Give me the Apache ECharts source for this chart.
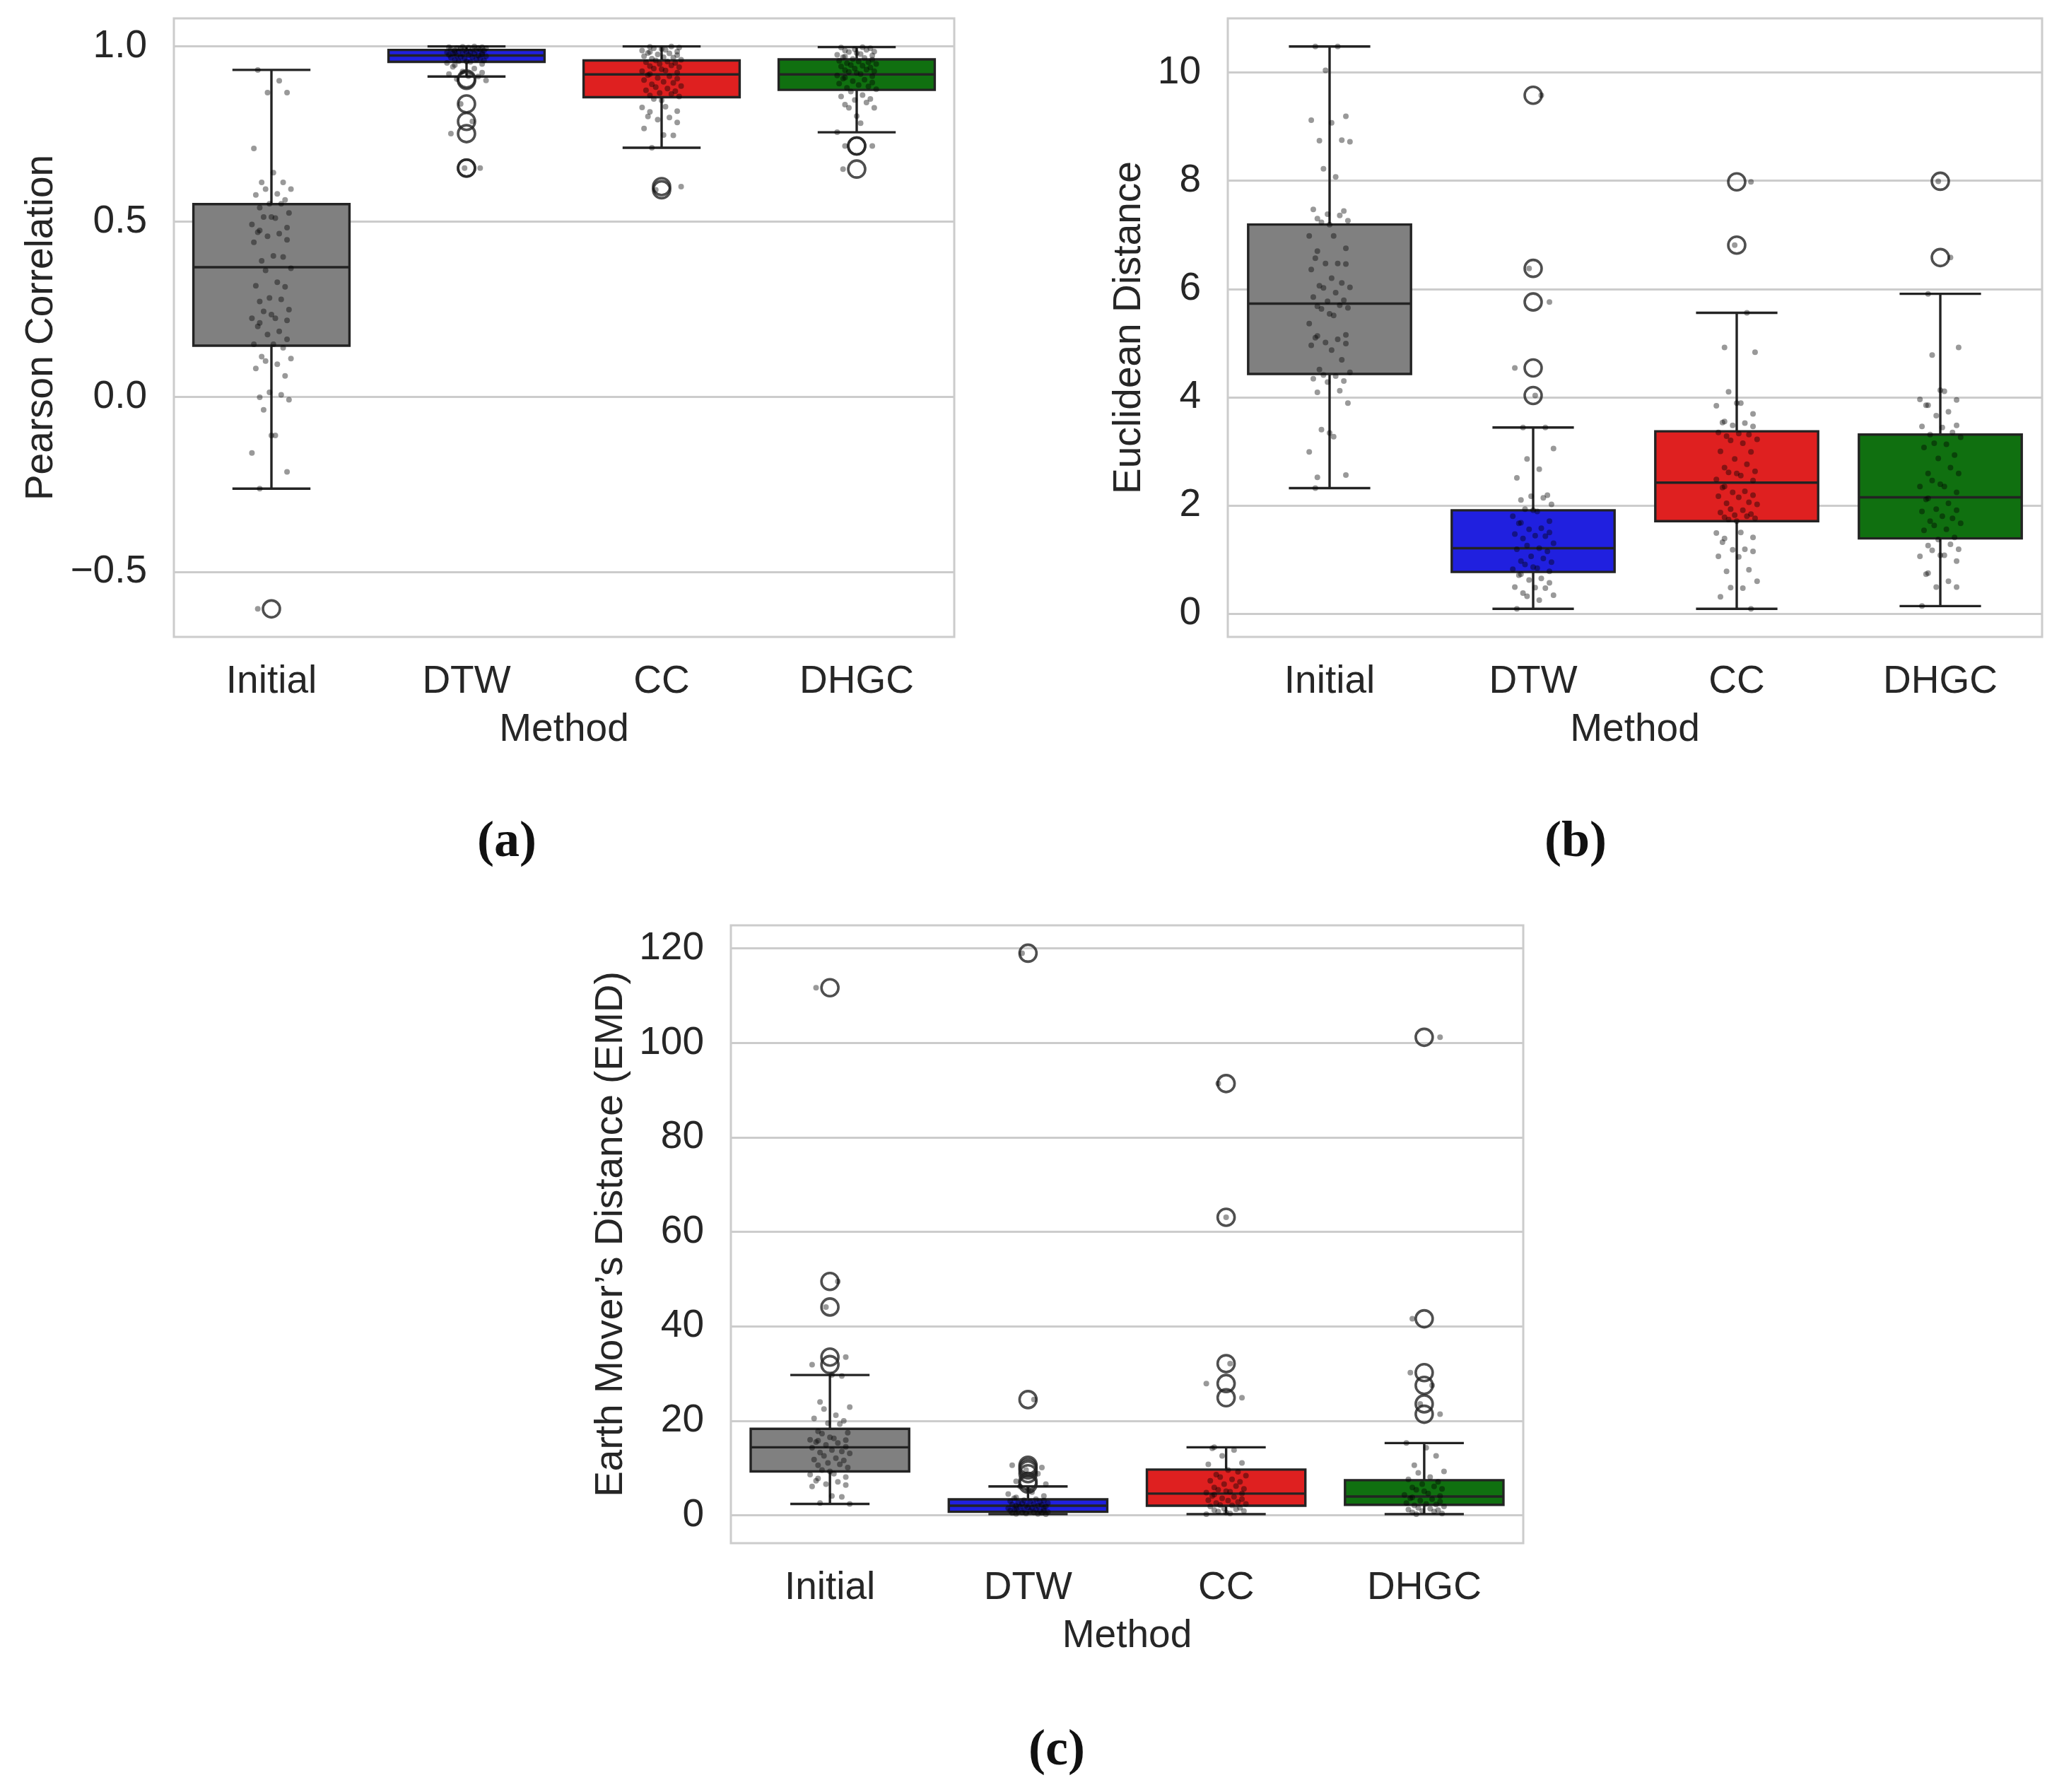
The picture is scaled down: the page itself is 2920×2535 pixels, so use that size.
<!DOCTYPE html>
<html>
<head>
<meta charset="utf-8">
<script src="https://cdn.jsdelivr.net/npm/echarts@6/dist/echarts.min.js"></script>
<style>
    html, body { margin: 0; background: #ffffff; }
    #chart { width: 2920px; height: 2535px; }
</style>
</head>
<body>
<div id="chart"></div>
<script>
const methods = ["Initial", "DTW", "CC", "DHGC"];
const boxColors = ["#808080", "#2020df", "#df2020", "#107010"];

// box stats: [lower whisker, Q1, median, Q3, upper whisker]
const pearsonBoxes = [
    [-0.262, 0.146, 0.370, 0.550, 0.933],
    [0.914, 0.956, 0.974, 0.990, 1.000],
    [0.711, 0.855, 0.920, 0.960, 1.000],
    [0.755, 0.876, 0.920, 0.963, 0.998]
];
const euclidBoxes = [
    [2.32, 4.43, 5.73, 7.19, 10.48],
    [0.09, 0.77, 1.21, 1.91, 3.44],
    [0.09, 1.71, 2.42, 3.37, 5.56],
    [0.14, 1.39, 2.15, 3.31, 5.91]
];
const emdBoxes = [
    [2.4, 9.3, 14.4, 18.3, 29.7],
    [0.25, 0.74, 2.03, 3.37, 6.1],
    [0.25, 2.03, 4.6, 9.68, 14.4],
    [0.25, 2.23, 3.97, 7.44, 15.3]
];

// per-sample values (strip points)
const pearsonInitial = [0.933, 0.902, 0.868, 0.868, 0.709, 0.640, 0.612, 0.612, 0.593, 0.593, 0.579, 0.576,
    0.562, 0.551, 0.551, 0.540, 0.525, 0.513, 0.513, 0.510, 0.492, 0.483, 0.475, 0.470, 0.466, 0.458, 0.448,
    0.441, 0.402, 0.399, 0.388, 0.367, 0.361, 0.327, 0.317, 0.314, 0.282, 0.278, 0.272, 0.249, 0.244, 0.235,
    0.224, 0.224, 0.218, 0.211, 0.201, 0.187, 0.178, 0.164, 0.150, 0.150, 0.140, 0.115, 0.109, 0.102, 0.093,
    0.081, 0.060, 0.013, 0.006, -0.001, -0.008, -0.037, -0.110, -0.110, -0.160, -0.214, -0.262, -0.605];
const pearsonDTW = [1.000, 0.999, 0.998, 0.998, 0.997, 0.996, 0.995, 0.995, 0.994, 0.993, 0.992, 0.991,
    0.990, 0.989, 0.988, 0.988, 0.986, 0.985, 0.984, 0.983, 0.982, 0.981, 0.980, 0.979, 0.978, 0.977, 0.976,
    0.975, 0.974, 0.973, 0.972, 0.970, 0.969, 0.968, 0.966, 0.965, 0.963, 0.961, 0.960, 0.958, 0.957, 0.956,
    0.953, 0.950, 0.947, 0.942, 0.937, 0.928, 0.925, 0.921, 0.915, 0.914, 0.907, 0.903, 0.836, 0.786, 0.751,
    0.653, 0.653];
const pearsonCC = [1.000, 0.999, 0.997, 0.995, 0.993, 0.990, 0.988, 0.985, 0.984, 0.981, 0.980, 0.977,
    0.975, 0.972, 0.969, 0.968, 0.965, 0.962, 0.960, 0.957, 0.955, 0.953, 0.950, 0.946, 0.944, 0.941, 0.937,
    0.935, 0.931, 0.929, 0.925, 0.921, 0.918, 0.915, 0.910, 0.908, 0.904, 0.899, 0.896, 0.892, 0.887, 0.884,
    0.880, 0.875, 0.872, 0.867, 0.864, 0.860, 0.857, 0.850, 0.846, 0.828, 0.826, 0.815, 0.813, 0.800, 0.797,
    0.791, 0.783, 0.766, 0.747, 0.746, 0.711, 0.600, 0.591];
const pearsonDHGC = [0.998, 0.997, 0.995, 0.992, 0.990, 0.988, 0.985, 0.984, 0.981, 0.978, 0.976, 0.974,
    0.971, 0.969, 0.967, 0.964, 0.962, 0.959, 0.957, 0.955, 0.952, 0.950, 0.947, 0.945, 0.943, 0.940, 0.937,
    0.934, 0.932, 0.929, 0.927, 0.924, 0.921, 0.917, 0.915, 0.911, 0.908, 0.905, 0.901, 0.897, 0.894, 0.890,
    0.886, 0.882, 0.878, 0.871, 0.861, 0.857, 0.850, 0.847, 0.840, 0.834, 0.825, 0.825, 0.801, 0.781, 0.755,
    0.716, 0.716, 0.650];

const euclidInitial = [10.48, 10.48, 10.04, 9.19, 9.12, 9.07, 8.75, 8.74, 8.72, 8.22, 8.07, 7.47, 7.44, 7.38,
    7.36, 7.30, 7.26, 7.23, 7.19, 6.98, 6.98, 6.75, 6.70, 6.57, 6.47, 6.47, 6.46, 6.36, 6.20, 6.11, 6.06, 6.03,
    6.02, 5.93, 5.85, 5.79, 5.77, 5.70, 5.68, 5.65, 5.63, 5.54, 5.51, 5.36, 5.15, 5.13, 5.10, 5.07, 5.01, 4.99,
    4.96, 4.87, 4.69, 4.51, 4.46, 4.41, 4.39, 4.34, 4.30, 4.28, 4.12, 4.09, 3.89, 3.40, 3.34, 3.27, 2.99, 2.56,
    2.52, 2.32];
const euclidDTW = [9.58, 6.38, 5.76, 4.54, 4.03, 3.44, 3.44, 3.05, 2.86, 2.67, 2.51, 2.19, 2.17, 2.14, 2.10,
    2.02, 1.93, 1.91, 1.89, 1.80, 1.71, 1.68, 1.67, 1.58, 1.56, 1.50, 1.47, 1.44, 1.43, 1.39, 1.30, 1.26, 1.21,
    1.19, 1.15, 1.06, 1.02, 0.97, 0.95, 0.91, 0.86, 0.84, 0.82, 0.78, 0.73, 0.71, 0.65, 0.62, 0.57, 0.49, 0.48,
    0.47, 0.38, 0.34, 0.32, 0.25, 0.09];
const euclidCC = [7.98, 6.81, 5.56, 4.92, 4.83, 4.10, 3.89, 3.89, 3.84, 3.69, 3.55, 3.53, 3.52, 3.48, 3.46,
    3.35, 3.33, 3.31, 3.28, 3.22, 3.20, 3.15, 3.00, 2.99, 2.86, 2.76, 2.70, 2.63, 2.61, 2.59, 2.55, 2.48, 2.46,
    2.35, 2.33, 2.26, 2.24, 2.19, 2.17, 2.15, 2.06, 2.04, 2.02, 1.93, 1.91, 1.87, 1.84, 1.82, 1.80, 1.78, 1.76,
    1.74, 1.71, 1.50, 1.49, 1.41, 1.39, 1.32, 1.19, 1.18, 1.15, 1.06, 1.05, 0.81, 0.78, 0.60, 0.48, 0.47, 0.31,
    0.09];
const euclidDHGC = [7.99, 6.58, 5.91, 4.92, 4.78, 4.13, 4.11, 3.96, 3.95, 3.85, 3.85, 3.73, 3.66, 3.48, 3.46,
    3.44, 3.35, 3.31, 3.26, 3.15, 3.13, 3.07, 2.93, 2.87, 2.70, 2.59, 2.59, 2.46, 2.39, 2.35, 2.35, 2.24, 2.13,
    2.11, 2.04, 1.93, 1.91, 1.89, 1.80, 1.76, 1.71, 1.67, 1.63, 1.56, 1.54, 1.41, 1.37, 1.28, 1.26, 1.19, 1.17,
    1.08, 1.08, 1.06, 0.97, 0.75, 0.73, 0.60, 0.49, 0.49, 0.14];

const emdInitial = [111.7, 49.5, 44.1, 33.5, 31.9, 29.7, 29.5, 24.0, 22.9, 22.5, 21.2, 20.5, 20.0, 19.5, 19.3,
    17.8, 17.5, 17.3, 16.5, 16.3, 16.0, 15.9, 15.8, 15.5, 15.3, 14.9, 14.5, 14.3, 13.8, 13.5, 13.3, 13.1, 12.6,
    12.1, 11.8, 11.6, 11.1, 10.8, 10.6, 10.1, 9.6, 9.3, 8.8, 8.6, 8.1, 7.8, 7.3, 7.1, 6.6, 6.4, 6.1, 4.1, 3.9,
    2.6, 2.4];
const emdDTW = [119.0, 24.5, 10.6, 10.1, 9.6, 8.8, 7.2, 6.6, 6.1, 5.4, 4.9, 4.5, 4.1, 3.8, 3.6, 3.4, 3.2, 3.1,
    3.0, 2.9, 2.8, 2.7, 2.6, 2.5, 2.4, 2.3, 2.2, 2.1, 2.0, 2.0, 1.9, 1.8, 1.7, 1.6, 1.5, 1.5, 1.4, 1.3, 1.2, 1.1,
    1.0, 1.0, 0.9, 0.9, 0.8, 0.7, 0.6, 0.6, 0.5, 0.5, 0.4, 0.3, 0.3, 0.25];
const emdCC = [91.4, 63.1, 32.1, 27.9, 24.9, 14.4, 14.2, 13.8, 12.6, 11.1, 10.8, 9.6, 9.2, 8.6, 8.4, 8.1, 7.6,
    7.3, 7.1, 6.6, 6.2, 5.9, 5.6, 5.4, 5.1, 5.0, 4.8, 4.6, 4.4, 4.1, 3.9, 3.6, 3.4, 3.2, 3.1, 2.8, 2.6, 2.4, 2.2,
    2.1, 1.9, 1.6, 1.4, 1.3, 1.1, 0.9, 0.8, 0.6, 0.4, 0.25];
const emdDHGC = [101.2, 41.6, 30.2, 27.5, 23.6, 21.4, 15.3, 14.3, 12.6, 10.6, 9.3, 9.0, 8.1, 7.6, 7.1, 6.6,
    6.1, 5.9, 5.6, 5.4, 5.1, 4.6, 4.3, 4.1, 3.8, 3.6, 3.4, 3.1, 2.9, 2.6, 2.4, 2.3, 2.1, 1.9, 1.6, 1.4, 1.2, 1.1,
    0.9, 0.8, 0.6, 0.4, 0.25];

const pearsonTicks = [-0.5, 0, 0.5, 1.0];
const euclidTicks = [0, 2, 4, 6, 8, 10];
const emdTicks = [0, 20, 40, 60, 80, 100, 120];

// horizontal jitter of the strip points, in category units
const jitterPattern = [-0.07, 0.04, -0.02, 0.08, -0.09, 0.01, 0.06, -0.05, 0.1, -0.03, 0.03, -0.08,
    0.07, -0.01, 0.05, -0.06, 0.09, -0.04, 0.0, 0.02, -0.1, 0.08, -0.06];

const textColor = "#262626";
const lineColor = "#232323";
const fontFamily = "Liberation Sans";

const panels = [
    {
        boxes: pearsonBoxes,
        points: [pearsonInitial, pearsonDTW, pearsonCC, pearsonDHGC],
        ticks: pearsonTicks,
        min: -0.685, max: 1.080,
        fmt: v => (v < 0 ? "\u2212" + Math.abs(v).toFixed(1) : v.toFixed(1)),
        yName: "Pearson Correlation", nameGap: 160,
        grid: { left: 246, top: 26, width: 1104, height: 875 }
    },
    {
        boxes: euclidBoxes,
        points: [euclidInitial, euclidDTW, euclidCC, euclidDHGC],
        ticks: euclidTicks,
        min: -0.43, max: 11.0,
        fmt: v => String(v),
        yName: "Euclidean Distance", nameGap: 112,
        grid: { left: 1737, top: 26, width: 1152, height: 875 }
    },
    {
        boxes: emdBoxes,
        points: [emdInitial, emdDTW, emdCC, emdDHGC],
        ticks: emdTicks,
        min: -5.9, max: 124.9,
        fmt: v => String(v),
        yName: "Earth Mover\u2019s Distance (EMD)", nameGap: 142,
        grid: { left: 1034, top: 1309, width: 1121, height: 874 }
    }
];

const renderWhisker = (params, api) => {
    const c = api.value(0);
    const lo = api.coord([c, api.value(1)]);
    const q1 = api.coord([c, api.value(2)]);
    const q3 = api.coord([c, api.value(3)]);
    const hi = api.coord([c, api.value(4)]);
    const half = api.size([1, 0])[0] * 0.2;
    const style = { stroke: lineColor, lineWidth: 3.4 };
    const seg = (x1, y1, x2, y2) => ({ type: "line", shape: { x1, y1, x2, y2 }, style });
    return {
        type: "group",
        children: [
            seg(lo[0], lo[1], q1[0], q1[1]),
            seg(q3[0], q3[1], hi[0], hi[1]),
            seg(lo[0] - half, lo[1], lo[0] + half, lo[1]),
            seg(hi[0] - half, hi[1], hi[0] + half, hi[1])
        ]
    };
};

const grids = [];
const xAxes = [];
const yAxes = [];
const series = [];

panels.forEach((p, i) => {
    grids.push(Object.assign({ show: true, borderColor: "#cccccc", borderWidth: 3, backgroundColor: "#ffffff" }, p.grid));

    xAxes.push({
        gridIndex: i,
        type: "category",
        data: methods,
        axisLine: { show: false },
        axisTick: { show: false },
        splitLine: { show: false },
        axisLabel: { fontSize: 55, color: textColor, fontFamily, margin: 36 },
        name: "Method",
        nameLocation: "middle",
        nameGap: 104,
        nameTextStyle: { fontSize: 55, color: textColor, fontFamily }
    });
    xAxes.push({ gridIndex: i, type: "value", min: -0.5, max: 3.5, show: false });

    yAxes.push({
        gridIndex: i,
        type: "value",
        min: p.min,
        max: p.max,
        axisLine: { show: false },
        axisTick: { show: false, customValues: p.ticks },
        axisLabel: {
            customValues: p.ticks,
            fontSize: 55, color: textColor, fontFamily, margin: 38,
            formatter: p.fmt
        },
        splitLine: { show: true, lineStyle: { color: "#cccccc", width: 3.2 } },
        name: p.yName,
        nameLocation: "middle",
        nameGap: p.nameGap,
        nameTextStyle: { fontSize: 55, color: textColor, fontFamily }
    });

    series.push({
        type: "boxplot",
        xAxisIndex: 2 * i,
        yAxisIndex: i,
        boxWidth: ["80%", "80%"],
        z: 2,
        itemStyle: { borderColor: lineColor, borderWidth: 3.4 },
        data: p.boxes.map((b, k) => ({
            value: [b[1], b[1], b[2], b[3], b[3]],
            itemStyle: { color: boxColors[k] }
        }))
    });

    series.push({
        type: "custom",
        xAxisIndex: 2 * i + 1,
        yAxisIndex: i,
        z: 2,
        encode: { x: 0, y: [1, 2, 3, 4] },
        renderItem: renderWhisker,
        data: p.boxes.map((b, k) => [k, b[0], b[1], b[3], b[4]])
    });

    const fliers = [];
    const strip = [];
    let n = 0;
    p.points.forEach((vals, k) => {
        const b = p.boxes[k];
        vals.forEach(v => {
            if (v < b[0] - 1e-9 || v > b[4] + 1e-9) fliers.push([k, v]);
            strip.push([k + jitterPattern[n % jitterPattern.length], v]);
            n++;
        });
    });

    series.push({
        type: "scatter",
        xAxisIndex: 2 * i + 1,
        yAxisIndex: i,
        z: 3,
        symbol: "circle",
        symbolSize: 24,
        itemStyle: { color: "rgba(0,0,0,0)", borderColor: lineColor, borderWidth: 3.6 },
        data: fliers
    });

    series.push({
        type: "scatter",
        xAxisIndex: 2 * i + 1,
        yAxisIndex: i,
        z: 4,
        symbol: "circle",
        symbolSize: 8,
        itemStyle: { color: "rgba(0,0,0,0.5)" },
        data: strip
    });
});

const subLabel = (text, x, y) => ({
    type: "text",
    x, y,
    style: {
        text,
        font: 'bold 72px "Liberation Serif", "DejaVu Serif", serif',
        fill: "#111111",
        textAlign: "center",
        textVerticalAlign: "middle"
    }
});

const chart = echarts.init(document.getElementById("chart"), null, { renderer: "canvas" });
chart.setOption({
    animation: false,
    backgroundColor: "#ffffff",
    grid: grids,
    xAxis: xAxes,
    yAxis: yAxes,
    series: series,
    graphic: [
        subLabel("(a)", 717, 1192),
        subLabel("(b)", 2229, 1192),
        subLabel("(c)", 1495, 2477)
    ]
});
</script>
</body>
</html>
